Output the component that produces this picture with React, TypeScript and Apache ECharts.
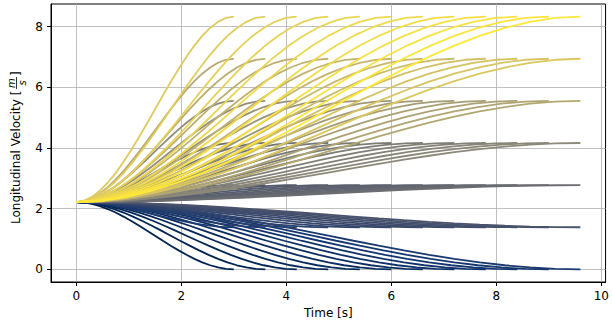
import React, { useEffect, useRef } from "react";
import * as echarts from "echarts";

// Target (final) longitudinal velocities in m/s (0..30 km/h in 5 km/h steps)
const targetVelocities = [0, 1.389, 2.778, 4.167, 5.556, 6.944, 8.333];
// End times of each trajectory in s
const endTimes = [3.0, 3.6, 4.2, 4.8, 5.4, 6.0, 6.6, 7.2, 7.8, 8.4, 9.0, 9.6];
// Initial velocity in m/s
const initialVelocity = 2.22;
// Normalised time fractions and the normalised velocity-change profile
const profileFractions = [0, 0.05, 0.1, 0.15, 0.2, 0.25, 0.3, 0.35, 0.4, 0.45, 0.5, 0.55, 0.6, 0.65, 0.7, 0.75, 0.8, 0.85, 0.9, 0.95, 1];
const profileShape = [0, 0.007, 0.028, 0.061, 0.104, 0.156, 0.216, 0.282, 0.352, 0.425, 0.5, 0.575, 0.648, 0.718, 0.784, 0.844, 0.896, 0.939, 0.972, 0.993, 1];

const xTicks = [0, 2, 4, 6, 8, 10];
const yTicks = [0, 2, 4, 6, 8];

const cividisStops = ["#00224E", "#123570", "#3B496C", "#575D6D", "#707173", "#8A8779", "#A69D75", "#C4B56C", "#E4CF5B", "#FEE838"];

function hexToRgb(h: string) {
  const n = parseInt(h.slice(1), 16);
  return [(n >> 16) & 255, (n >> 8) & 255, n & 255];
}
function cividis(t: number) {
  const p = Math.max(0, Math.min(1, t)) * (cividisStops.length - 1);
  const i = Math.min(Math.floor(p), cividisStops.length - 2);
  const f = p - i;
  const a = hexToRgb(cividisStops[i]);
  const b = hexToRgb(cividisStops[i + 1]);
  const c = a.map((v, k) => Math.round(v + (b[k] - v) * f));
  return `rgb(${c[0]},${c[1]},${c[2]})`;
}

const FONT = '"DejaVu Sans", sans-serif';

export default function App() {
  const ref = useRef<HTMLDivElement>(null);
  useEffect(() => {
    document.body.style.margin = "0";
    if (!ref.current) return;
    const chart = echarts.init(ref.current, undefined, { renderer: "svg" });
    const total = targetVelocities.length * endTimes.length;
    const series: any[] = [];
    targetVelocities.forEach((v1, vi) => {
      endTimes.forEach((T, ti) => {
        const idx = vi * endTimes.length + ti;
        series.push({
          type: "line",
          showSymbol: false,
          smooth: false,
          silent: true,
          lineStyle: { width: 1.8, color: cividis(idx / (total - 1)) },
          data: profileFractions.map((f, k) => [T * f, initialVelocity + (v1 - initialVelocity) * profileShape[k]]),
        });
      });
    });
    const labelStyle = { color: "#000", fontSize: 12, fontFamily: FONT };
    chart.setOption({
      animation: false,
      grid: { left: 51, right: 2, top: 4, bottom: 44, show: true, borderColor: "#000", borderWidth: 1, backgroundColor: "transparent" },
      xAxis: {
        type: "value",
        min: -0.48,
        max: 10.08,
        axisLine: { show: true, onZero: false, lineStyle: { color: "#000", width: 1 } },
        axisTick: { show: true, inside: false, length: 4, customValues: xTicks, lineStyle: { color: "#000" } },
        axisLabel: { ...labelStyle, margin: 8, customValues: xTicks, formatter: (v: number) => String(v) },
        splitLine: { show: true, lineStyle: { color: "#b0b0b0", width: 0.8 } },
        name: "Time [s]",
        nameLocation: "middle",
        nameGap: 25,
        nameTextStyle: labelStyle,
      },
      yAxis: {
        type: "value",
        min: -0.4167,
        max: 8.75,
        axisLine: { show: true, onZero: false, lineStyle: { color: "#000", width: 1 } },
        axisTick: { show: true, inside: false, length: 4, customValues: yTicks, lineStyle: { color: "#000" } },
        axisLabel: { ...labelStyle, margin: 8, customValues: yTicks, formatter: (v: number) => String(v) },
        splitLine: { show: true, lineStyle: { color: "#b0b0b0", width: 0.8 } },
      },
      graphic: [
        {
          type: "group",
          x: 16,
          y: 143,
          rotation: Math.PI / 2,
          children: [
            { type: "text", x: -81, y: 0, style: { text: "Longitudinal Velocity [", font: `12px ${FONT}`, fill: "#000", align: "left", verticalAlign: "middle" } },
            { type: "text", x: 60, y: -5, style: { text: "m", font: `italic 10px ${FONT}`, fill: "#000", align: "center", verticalAlign: "middle" } },
            { type: "line", shape: { x1: 54, y1: 0.5, x2: 66, y2: 0.5 }, style: { stroke: "#000", lineWidth: 0.8 } },
            { type: "text", x: 60, y: 6, style: { text: "s", font: `italic 10px ${FONT}`, fill: "#000", align: "center", verticalAlign: "middle" } },
            { type: "text", x: 67, y: 0, style: { text: "]", font: `12px ${FONT}`, fill: "#000", align: "left", verticalAlign: "middle" } },
          ],
        },
      ],
      series,
    });
    return () => chart.dispose();
  }, []);
  return <div ref={ref} style={{ width: 612, height: 326 }} />;
}
